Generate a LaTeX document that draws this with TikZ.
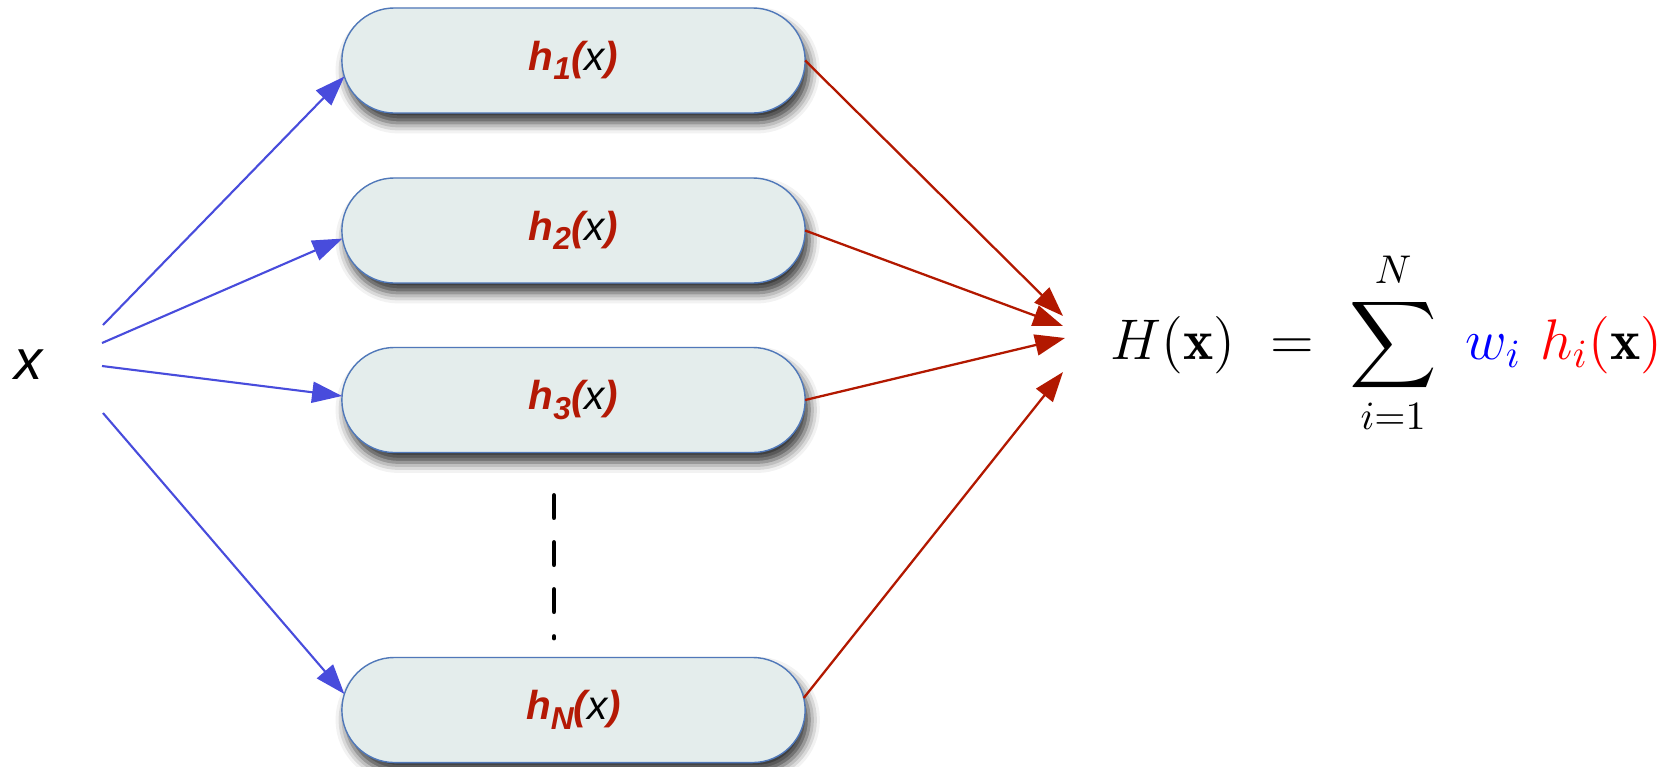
\RequirePackage{fix-cm}
\documentclass[tikz,border=0pt]{standalone}
\usepackage{amsmath}
\usepackage{fontspec}
\setsansfont{Liberation Sans}
\usetikzlibrary{arrows.meta,shapes.misc,shadows.blur}
\definecolor{boxfill}{RGB}{228,237,236}
\definecolor{boxline}{RGB}{80,120,185}
\definecolor{inblue}{RGB}{72,76,220}
\definecolor{outred}{RGB}{178,24,0}
\definecolor{labred}{RGB}{180,25,5}
\newcommand{\hlab}[1]{{\color{labred}h\raisebox{-0.45ex}{\fontsize{9}{9}\selectfont #1}(}{\mdseries x}{\color{labred})}}

\begin{document}
\begin{tikzpicture}[
    x=0.01cm, y=-0.01cm,
    >={Triangle[length=8.5pt,width=6pt]},
    learner/.style={rounded rectangle, draw=boxline, line width=0.4pt, fill=boxfill,
      minimum width=4.63cm, minimum height=1.05cm, inner sep=0pt, outer sep=0pt,
      font=\sffamily\bfseries\itshape\fontsize{11.5}{12}\selectfont,
      blur shadow={shadow xshift=1.2pt, shadow yshift=-2.8pt, shadow blur radius=3pt, shadow opacity=80}},
    inarrow/.style={->, draw=inblue, fill=inblue, line width=0.6pt},
    outarrow/.style={->, draw=outred, fill=outred, line width=0.65pt},
    dots/.style={line width=1.4pt, line cap=round, dash pattern=on 0.22cm off 0.25cm}
]
  \useasboundingbox (0,0) rectangle (1661,766);

  % nodes
  \node[font=\sffamily\itshape\fontsize{16}{16}\selectfont] (x) at (29,365) {x};
  \node[learner] (h1) at (573.5,60.5) {\hlab{1}};
  \node[learner] (h2) at (573.5,230.5) {\hlab{2}};
  \node[learner] (h3) at (573.5,400) {\hlab{3}};
  \node[learner] (hN) at (573.5,710) {\hlab{N}};
  \node[anchor=base west, inner sep=0pt, font=\fontsize{16.3}{19}\selectfont] (H) at (1110,359)
    {$\displaystyle H(\mathbf{x}) \mskip6mu=\mskip6mu \sum_{i=1}^{N}\mskip6mu {\color{blue}w_i}\mskip6mu {\color{red}h_i(}\mathbf{x}{\color{red})}$};

  % arrow ends
  \coordinate (s1) at (103,325);
  \coordinate (s2) at (102,343);
  \coordinate (s3) at (102,366);
  \coordinate (s4) at (103,413);
  \coordinate (e1) at (1063,316);
  \coordinate (e2) at (1063,326);
  \coordinate (e3) at (1065,338);
  \coordinate (e4) at (1063,372);
  \coordinate (dtop) at (554,495.5);
  \coordinate (dbot) at (554,638);

  % edges
  \draw[inarrow] (s1) -- (h1.184);
  \draw[inarrow] (s2) -- (h2.182);
  \draw[inarrow] (s3) -- (h3.179);
  \draw[inarrow] (s4) -- (hN.176);
  \draw[outarrow] (h1.east) -- (e1);
  \draw[outarrow] (h2.east) -- (e2);
  \draw[outarrow] (h3.east) -- (e3);
  \draw[outarrow] (hN.3) -- (e4);
  \draw[dots] (dtop) -- (dbot);
\end{tikzpicture}
\end{document}
